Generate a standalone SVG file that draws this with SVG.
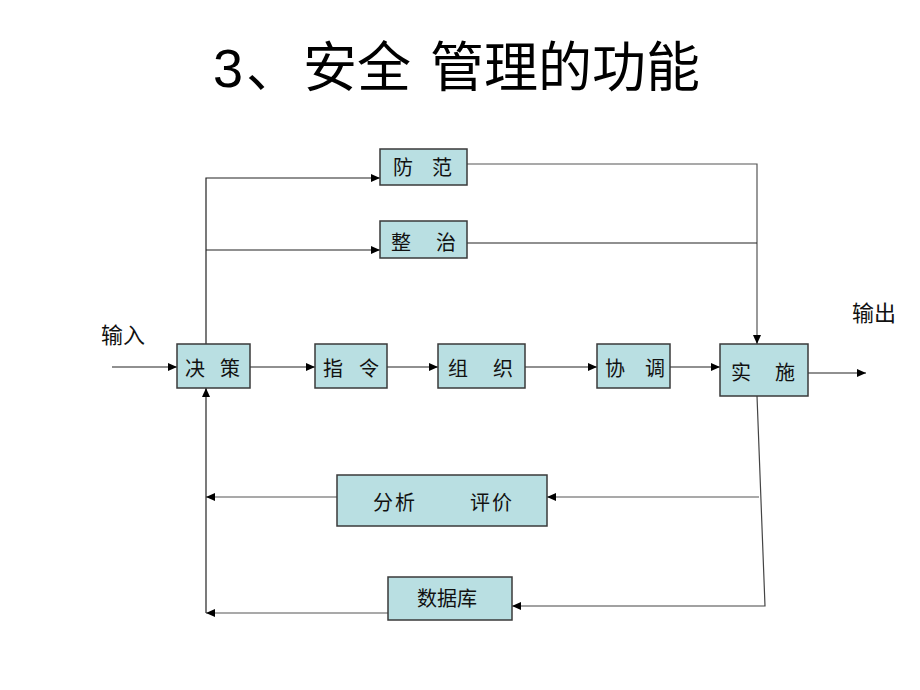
<svg xmlns="http://www.w3.org/2000/svg" width="920" height="690" viewBox="0 0 920 690">
<style>
.box{fill:#b9dfe2;stroke:#3a3a3a;stroke-width:1.5}
.lbl{font-family:"Noto Sans CJK SC","Liberation Sans",sans-serif;font-size:20px;fill:#111}
.ln{fill:none;stroke:#222;stroke-width:1.2}
.title{font-family:"Liberation Sans","Noto Sans CJK SC",sans-serif;font-size:54px;fill:#000}
</style>
<defs>
<marker id="ah" markerWidth="9" markerHeight="8" refX="9" refY="4" orient="auto" markerUnits="userSpaceOnUse">
<path d="M0,0 L9,4 L0,8 Z" fill="#000"/>
</marker>
</defs>
<rect width="920" height="690" fill="#fff"/>
<g id="title">
<text class="title" x="213" y="87">3</text>
<text class="title" x="246" y="87" style="font-family:'Noto Sans CJK SC',sans-serif">、</text>
<text class="title" x="303" y="87" style="font-family:'Noto Sans CJK SC',sans-serif">安全</text>
<text class="title" x="430" y="87" style="font-family:'Noto Sans CJK SC',sans-serif">管理的功能</text>
</g>
<g id="connectors">
<line class="ln" x1="112" y1="367" x2="177" y2="367" marker-end="url(#ah)"/>
<polyline class="ln" points="206,344 206,178 380,178" marker-end="url(#ah)"/>
<line class="ln" x1="206" y1="250" x2="380" y2="250" marker-end="url(#ah)"/>
<line class="ln" x1="250" y1="367" x2="315" y2="367" marker-end="url(#ah)"/>
<line class="ln" x1="387" y1="367" x2="438" y2="367" marker-end="url(#ah)"/>
<line class="ln" x1="525" y1="367" x2="597" y2="367" marker-end="url(#ah)"/>
<line class="ln" x1="670" y1="367" x2="720" y2="367" marker-end="url(#ah)"/>
<polyline class="ln" points="467,164 757,164 757,344" marker-end="url(#ah)" style="stroke:#555"/>
<line class="ln" x1="467" y1="243" x2="757" y2="243"/>
<line class="ln" x1="808" y1="373" x2="866" y2="373" marker-end="url(#ah)"/>
<polyline class="ln" points="757,396 765,606 512,606" marker-end="url(#ah)" style="stroke:#444"/>
<line class="ln" x1="759" y1="497" x2="547" y2="497" marker-end="url(#ah)" style="stroke:#555"/>
<line class="ln" x1="337" y1="497" x2="206" y2="497" marker-end="url(#ah)" style="stroke:#555"/>
<line class="ln" x1="388" y1="613" x2="206" y2="613" marker-end="url(#ah)" style="stroke:#555"/>
<line class="ln" x1="206" y1="613" x2="206" y2="388" marker-end="url(#ah)"/>
</g>
<g id="in-label"><text class="lbl" x="101" y="343" style="font-size:22px">输入</text></g>
<g id="out-label"><text class="lbl" x="852" y="321" style="font-size:22px">输出</text></g>
<g id="fangfan"><rect class="box" x="380" y="149" width="87" height="36"/><text class="lbl" x="393 432" y="175">防范</text></g>
<g id="zhengzhi"><rect class="box" x="380" y="221" width="87" height="37"/><text class="lbl" x="391 436" y="250">整治</text></g>
<g id="juece"><rect class="box" x="177" y="344" width="73" height="44"/><text class="lbl" x="185 220" y="376">决策</text></g>
<g id="zhiling"><rect class="box" x="315" y="344" width="72" height="44"/><text class="lbl" x="323 359" y="376">指令</text></g>
<g id="zuzhi"><rect class="box" x="438" y="344" width="87" height="44"/><text class="lbl" x="448 493" y="376">组织</text></g>
<g id="xietiao"><rect class="box" x="597" y="344" width="73" height="44"/><text class="lbl" x="605 645" y="376">协调</text></g>
<g id="shishi"><rect class="box" x="720" y="344" width="88" height="52"/><text class="lbl" x="731 775" y="380">实施</text></g>
<g id="fenxi"><rect class="box" x="337" y="475" width="210" height="51"/><text class="lbl" x="373 395 470 492" y="510">分析评价</text></g>
<g id="shujuku"><rect class="box" x="388" y="577" width="124" height="43"/><text class="lbl" x="417" y="606">数据库</text></g>
</svg>
